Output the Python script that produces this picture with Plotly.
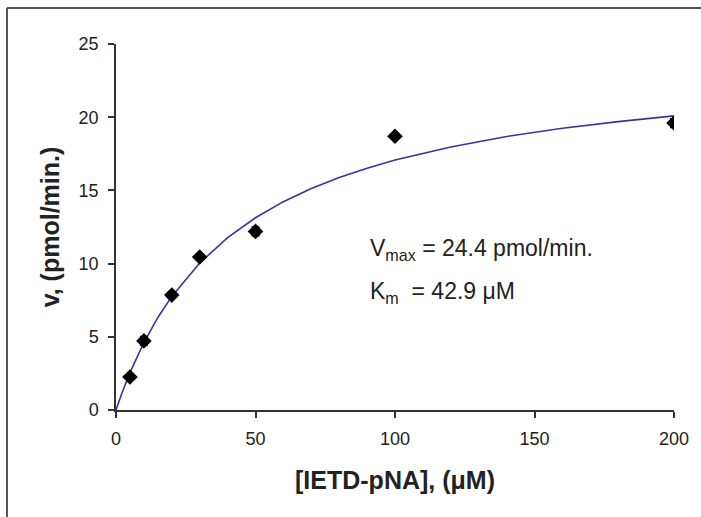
import plotly.graph_objects as go

# Measured data
substrate_um = [5, 10, 20, 30, 50, 100, 200]
velocity = [2.25, 4.72, 7.85, 10.45, 12.2, 18.7, 19.6]
velocity_err = [0.15, 0.3, 0.15, 0.15, 0.3, 0.15, 0.3]

# Fitted curve points
fit_x = [0, 2, 5, 10, 15, 20, 30, 40, 50, 60, 70, 80, 90, 100, 120, 140, 160, 180, 200]
fit_y = [0, 1.09, 2.55, 4.61, 6.32, 7.76, 10.04, 11.77, 13.13, 14.23, 15.13, 15.88,
         16.52, 17.08, 17.97, 18.68, 19.24, 19.70, 20.09]

x_ticks = [0, 50, 100, 150, 200]
y_ticks = [0, 5, 10, 15, 20, 25]

font_family = "Liberation Sans, Arial, sans-serif"
text_color = "#222222"

fig = go.Figure()
fig.add_trace(go.Scatter(
    x=fit_x, y=fit_y, mode="lines",
    line=dict(color="#3434a6", width=1.6),
    hoverinfo="skip", showlegend=False,
))
fig.add_trace(go.Scatter(
    x=substrate_um, y=velocity, mode="markers",
    marker=dict(symbol="diamond", size=12, color="black"),
    error_y=dict(type="data", array=velocity_err, color="black", thickness=1.5, width=4),
    showlegend=False,
))

frame_left = (7 - 116) / 558
frame_top = (410 - 8) / 366

fig.update_layout(
    width=701, height=517,
    margin=dict(l=116, r=27, t=44, b=107),
    paper_bgcolor="white", plot_bgcolor="white",
    font=dict(family=font_family, color=text_color),
    xaxis=dict(
        range=[0, 200], tickvals=x_ticks, ticks="outside", ticklen=6,
        tickcolor="#333333", tickwidth=1.5, ticklabelstandoff=6,
        showline=True, linecolor="#333333", linewidth=1.5,
        showgrid=False, zeroline=False,
        tickfont=dict(size=18, family=font_family, color=text_color),
        title=dict(text="<b>[IETD-pNA], (μM)</b>", font=dict(size=25, family=font_family, color=text_color), standoff=23),
    ),
    yaxis=dict(
        range=[0, 25], tickvals=y_ticks, ticks="outside", ticklen=6,
        tickcolor="#333333", tickwidth=1.5, ticklabelstandoff=6,
        showline=True, linecolor="#333333", linewidth=1.5,
        showgrid=False, zeroline=False,
        tickfont=dict(size=18, family=font_family, color=text_color),
        title=dict(text="<b>v, (pmol/min.)</b>", font=dict(size=25, family=font_family, color=text_color), standoff=12),
    ),
    annotations=[
        dict(x=0.452, y=(410 - 250) / 366, xref="paper", yref="paper",
             text="V<sub>max</sub> = 24.4 pmol/min.", showarrow=False,
             xanchor="left", yanchor="middle",
             font=dict(size=23, family=font_family, color=text_color)),
        dict(x=0.452, y=(410 - 292) / 366, xref="paper", yref="paper",
             text="K<sub>m</sub>  = 42.9 μM", showarrow=False,
             xanchor="left", yanchor="middle",
             font=dict(size=23, family=font_family, color=text_color)),
    ],
    shapes=[
        dict(type="line", xref="paper", yref="paper",
             x0=frame_left, x1=1.1, y0=frame_top, y1=frame_top,
             line=dict(color="#555555", width=2), layer="below"),
        dict(type="line", xref="paper", yref="paper",
             x0=frame_left, x1=frame_left, y0=frame_top, y1=-0.35,
             line=dict(color="#555555", width=2), layer="below"),
    ],
)

fig.write_html(
    "out.html",
    config={"displayModeBar": False},
    post_script="document.body.style.margin='0';document.body.style.overflow='hidden';",
)
